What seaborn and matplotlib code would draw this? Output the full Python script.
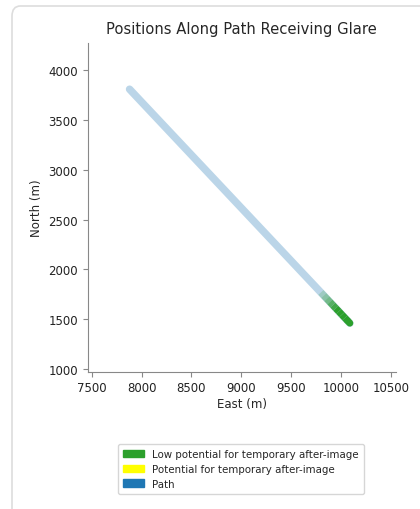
import matplotlib
matplotlib.use("Agg")
import matplotlib.pyplot as plt
import seaborn as sns
import pandas as pd
from matplotlib.patches import Patch, FancyBboxPatch

# ---- data ----
path_east = [7880, 10090]
path_north = [3810, 1460]

glare_east = [9800, 9830, 9860, 9890, 9920, 9950, 9980, 10010, 10040, 10070, 10090]
glare_north = [1769, 1737, 1705, 1673, 1641, 1609, 1578, 1546, 1514, 1482, 1461]
glare_alpha = [0.1, 0.2, 0.35, 0.5, 0.7, 0.85, 1.0, 1.0, 1.0, 1.0, 1.0]

x_ticks = [7500, 8000, 8500, 9000, 9500, 10000, 10500]
y_ticks = [1000, 1500, 2000, 2500, 3000, 3500, 4000]

legend_labels = ["Low potential for temporary after-image",
                 "Potential for temporary after-image",
                 "Path"]
legend_colors = ["#2ca02c", "#ffff00", "#1f77b4"]

title = "Positions Along Path Receiving Glare"

# ---- plot ----
sns.set_style("ticks")
plt.rcParams['font.family'] = ['DejaVu Sans']

fig = plt.figure(figsize=(4.2, 5.1), dpi=100)
frame = FancyBboxPatch((12 / 420, -0.05), 1.2, 1 - 7 / 510 + 0.05,
                       boxstyle="round,pad=0,rounding_size=0.02",
                       transform=fig.transFigure, facecolor="white",
                       edgecolor="#dddddd", linewidth=1.2, zorder=-10)
fig.patches.append(frame)

ax = fig.add_axes([0.2088, 0.2692, 0.7333, 0.6445])
ax.set_facecolor("none")

df_path = pd.DataFrame({"East": path_east, "North": path_north})
sns.lineplot(data=df_path, x="East", y="North", ax=ax, color="#1f77b4",
             alpha=0.3, linewidth=5.4, solid_capstyle="round", sort=False)

for i in range(len(glare_east) - 1):
    seg = pd.DataFrame({"East": glare_east[i:i + 2], "North": glare_north[i:i + 2]})
    sns.lineplot(data=seg, x="East", y="North", ax=ax, color="#2ca02c",
                 alpha=glare_alpha[i + 1], linewidth=5.0,
                 solid_capstyle="round" if i == len(glare_east) - 2 else "butt",
                 sort=False)

ax.set_xlim(7460, 10550)
ax.set_ylim(973, 4274)
ax.set_xticks(x_ticks)
ax.set_yticks(y_ticks)
ax.tick_params(labelsize=8.5, colors="#222222", length=3.5, width=0.8)
for lbl in ax.get_xticklabels() + ax.get_yticklabels():
    lbl.set_color("#222222")
sns.despine(ax=ax)
for s in ("left", "bottom"):
    ax.spines[s].set_color("#888888")
    ax.spines[s].set_linewidth(0.8)
ax.tick_params(color="#888888")

ax.set_xlabel("East (m)", fontsize=8.5, labelpad=2)
ax.set_ylabel("North (m)", fontsize=8.5, labelpad=4)
ax.set_title(title, fontsize=10.6, pad=7)

handles = [Patch(facecolor=c, edgecolor=c) for c in legend_colors]
fig.legend(handles, legend_labels, loc="center", bbox_to_anchor=(241 / 420, 1 - 470 / 510),
           fontsize=7.4, frameon=True, edgecolor="#cccccc", fancybox=True,
           handlelength=2.0, handleheight=0.7, borderpad=0.5, labelspacing=0.45)

fig.savefig("out.png", dpi=100)
